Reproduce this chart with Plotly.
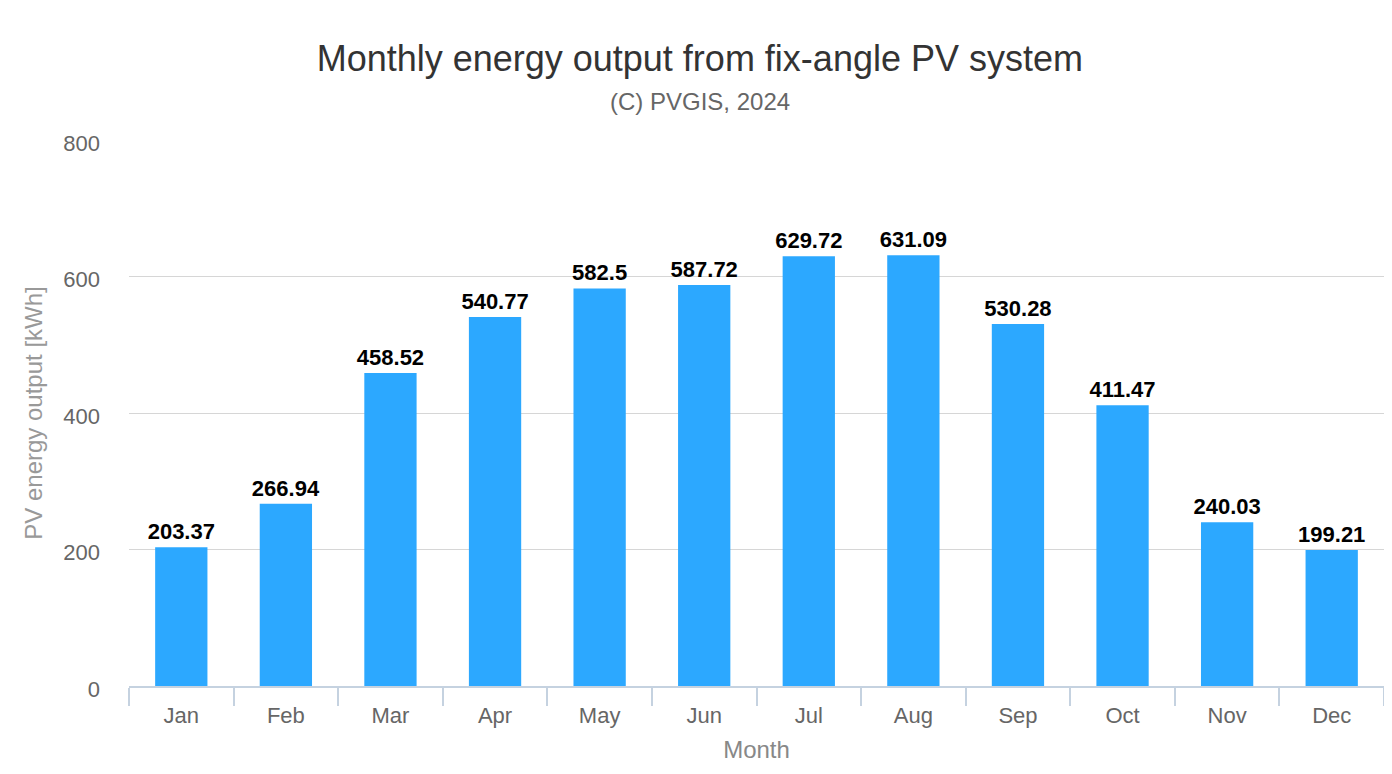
import plotly.graph_objects as go

months = ["Jan", "Feb", "Mar", "Apr", "May", "Jun", "Jul", "Aug", "Sep", "Oct", "Nov", "Dec"]
energy = [203.37, 266.94, 458.52, 540.77, 582.5, 587.72, 629.72, 631.09, 530.28, 411.47, 240.03, 199.21]
y_ticks = [0, 200, 400, 600, 800]

font_family = "Liberation Sans, Arial, sans-serif"

fig = go.Figure(
    go.Bar(
        x=months,
        y=energy,
        marker=dict(color="#2CA8FF", line=dict(width=0)),
        text=[f"{v:g}" for v in energy],
        textposition="outside",
        constraintext="none",
        textfont=dict(family=font_family, size=22, color="#000000", weight="bold"),
        cliponaxis=False,
        hoverinfo="x+y",
    )
)

fig.update_layout(
    width=1392,
    height=774,
    paper_bgcolor="white",
    plot_bgcolor="white",
    bargap=0.5,
    showlegend=False,
    margin=dict(l=121, r=16, t=132, b=96, autoexpand=False),
    font=dict(family=font_family),
    title=dict(
        text="Monthly energy output from fix-angle PV system",
        font=dict(size=36, color="#333333", family=font_family),
        x=0.497,
        xanchor="center",
        xref="container",
        y=1 - 50 / 774,
        yref="container",
        yanchor="middle",
        automargin=False,
    ),
    annotations=[
        dict(
            text="(C) PVGIS, 2024",
            font=dict(size=24, color="#666666", family=font_family),
            x=0.455,
            xref="paper",
            xanchor="center",
            y=1.0696,
            yref="paper",
            yanchor="middle",
            showarrow=False,
        )
    ],
    xaxis=dict(
        title=dict(text="Month", font=dict(size=24, color="#888888"), standoff=14),
        tickfont=dict(size=22, color="#666666"),
        showline=True,
        linecolor="#C5D2E0",
        linewidth=2,
        ticks="outside",
        tickson="boundaries",
        ticklen=18,
        tickwidth=2,
        tickcolor="#C5D2E0",
        ticklabelstandoff=9,
        showgrid=False,
        automargin=False,
    ),
    yaxis=dict(
        title=dict(text="PV energy output [kWh]", font=dict(size=24, color="#999999"), standoff=13),
        range=[0, 800],
        tickvals=y_ticks,
        tickfont=dict(size=22, color="#666666"),
        showgrid=True,
        gridcolor="#D6D6D6",
        gridwidth=1,
        zeroline=False,
        ticks="",
        ticklabelstandoff=28,
        ticklabelshift=3,
        automargin=False,
    ),
)

fig.write_html("out.html")
